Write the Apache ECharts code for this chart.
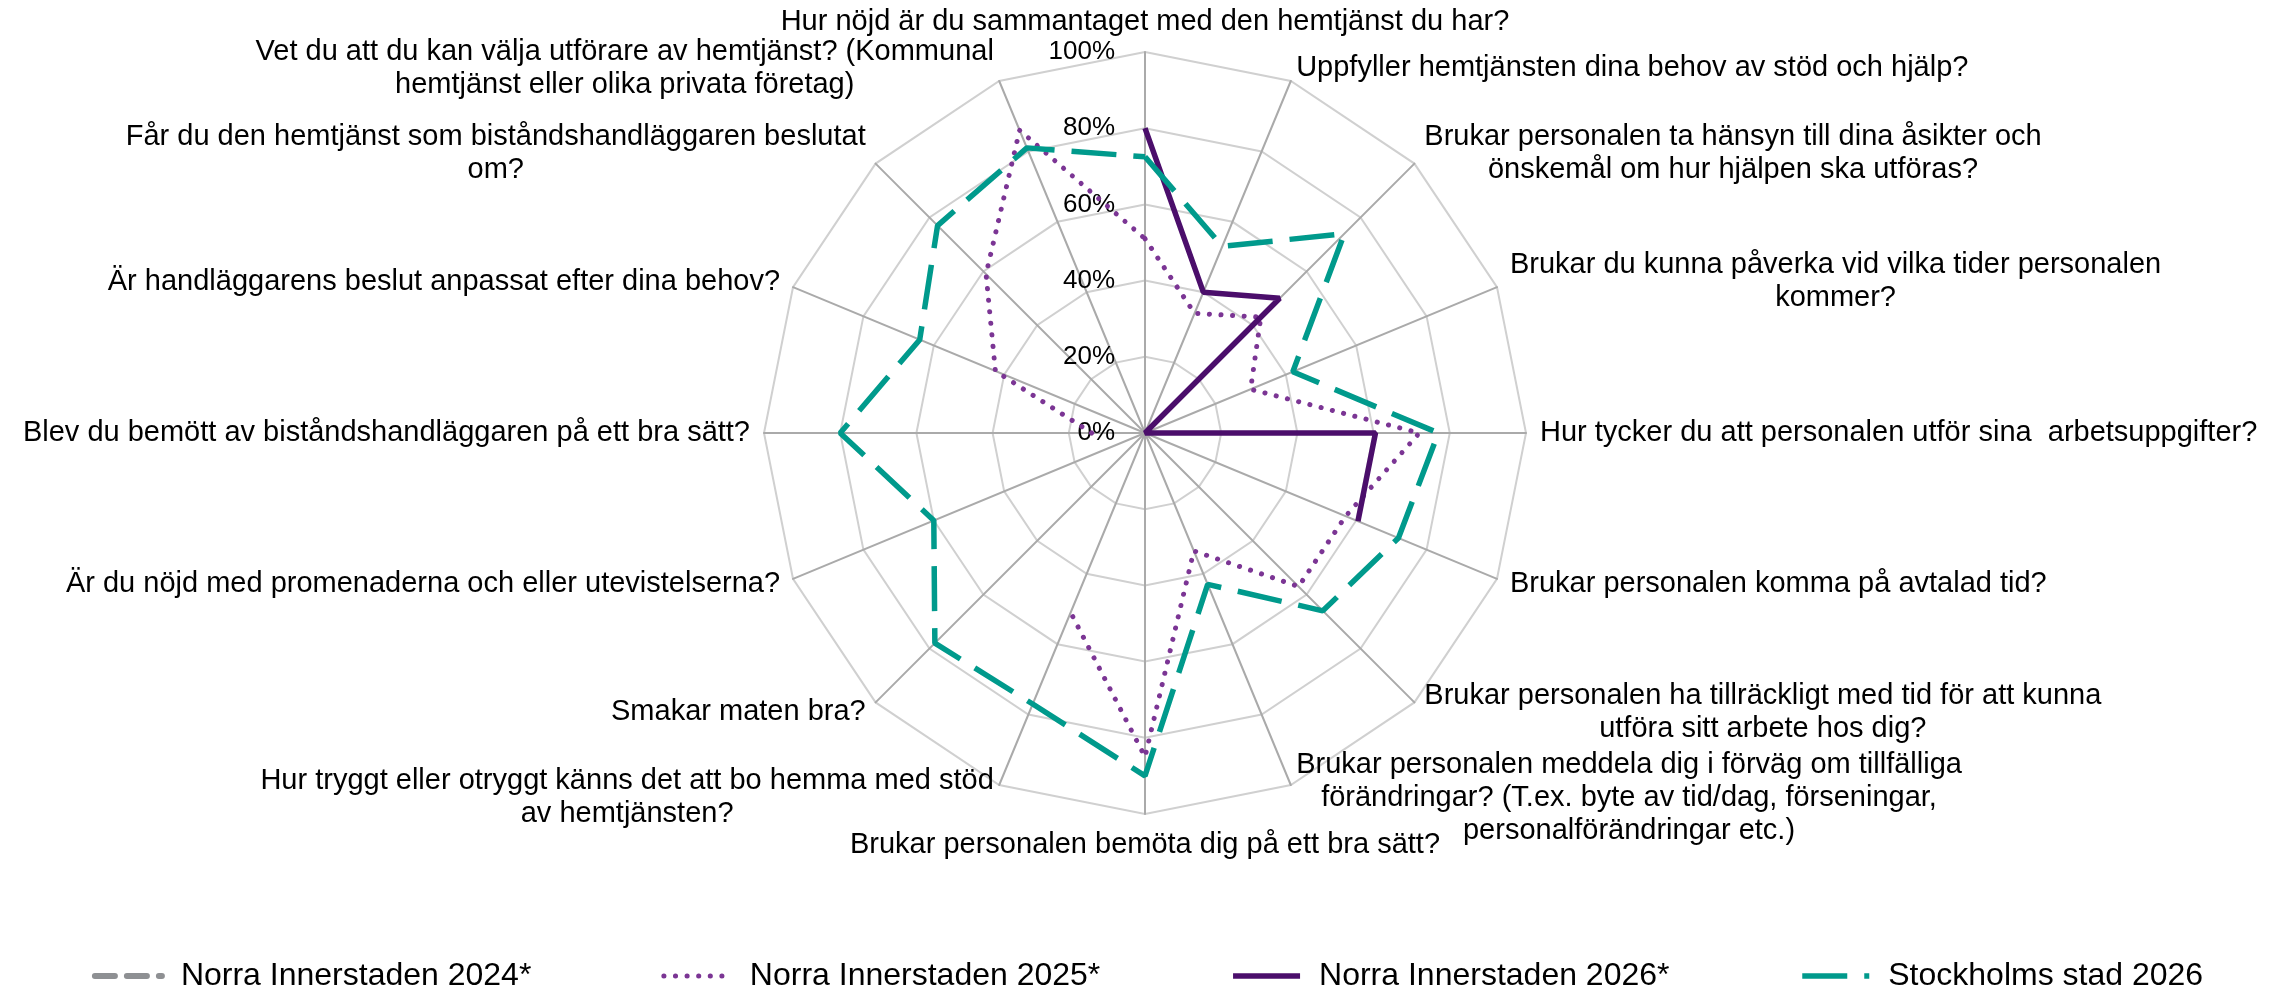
<!DOCTYPE html>
<html>
<head>
<meta charset="utf-8">
<script src="https://cdn.jsdelivr.net/npm/echarts@6/dist/echarts.min.js"></script>
<style>
  html, body { margin: 0; padding: 0; background: #fff; }
  #radar-chart { width: 2295px; height: 994px; }
</style>
</head>
<body>
<div id="radar-chart"></div>
<script>
// frågor, medurs från toppen
const categories = [
  'Hur nöjd är du sammantaget med den hemtjänst du har?',
  'Uppfyller hemtjänsten dina behov av stöd och hjälp?',
  'Brukar personalen ta hänsyn till dina åsikter och\nönskemål om hur hjälpen ska utföras?',
  'Brukar du kunna påverka vid vilka tider personalen\nkommer?',
  'Hur tycker du att personalen utför sina  arbetsuppgifter?',
  'Brukar personalen komma på avtalad tid?',
  'Brukar personalen ha tillräckligt med tid för att kunna\nutföra sitt arbete hos dig?',
  'Brukar personalen meddela dig i förväg om tillfälliga\nförändringar? (T.ex. byte av tid/dag, förseningar,\npersonalförändringar etc.)',
  'Brukar personalen bemöta dig på ett bra sätt?',
  'Hur tryggt eller otryggt känns det att bo hemma med stöd\nav hemtjänsten?',
  'Smakar maten bra?',
  'Är du nöjd med promenaderna och eller utevistelserna?',
  'Blev du bemött av biståndshandläggaren på ett bra sätt?',
  'Är handläggarens beslut anpassat efter dina behov?',
  'Får du den hemtjänst som biståndshandläggaren beslutat\nom?',
  'Vet du att du kan välja utförare av hemtjänst? (Kommunal\nhemtjänst eller olika privata företag)'
]

const seriesNames = ['Norra Innerstaden 2024*', 'Norra Innerstaden 2025*', 'Norra Innerstaden 2026*', 'Stockholms stad 2026']

// procent, null = inget värde
const norra2024 = [null, null, null, null, null, null, null, null, null, null, null, null, null, null, null, null]
const norra2025 = [51, 34, 43, 30, 72, 57, 57, 33.5, 85, 51, null, null, 14, 42.5, 59, 86]
const norra2026 = [80, 40, 50, 0, 60.5, 60.5, null, null, null, null, null, null, null, null, null, null]
const stockholm2026 = [72.5, 53, 74, 42, 77, 72, 66, 43, 90, 77, 78, 60, 80, 64, 77, 81]

const tickMax = 100
const tickSplit = 5

const FONT = '"Liberation Sans", Arial, sans-serif'

// [radie, index] + första punkten igen för att stänga slingan
function toPolar (values) {
  let pts = values.map((v, i) => [v == null ? '-' : v, i])
  pts.push([values[0] == null ? '-' : values[0], values.length])
  return pts
}

// radar ritar moturs, så vänd ordningen (första kvar)
let indicatorOrder = [0].concat(categories.slice(1).map((c, i) => categories.length - 1 - i))
let indicators = indicatorOrder.map((idx, k) => {
  let ind = { name: categories[idx], min: 0, max: tickMax }
  if (k === 0) {
    ind.axisLabel = {
      show: true,
      formatter: '{value}%',
      fontSize: 26,
      fontFamily: FONT,
      color: '#000',
      margin: 30
    }
  }
  return ind
})

let myChart = echarts.init(document.getElementById('radar-chart'))
let option = {
  animation: false,
  backgroundColor: '#fff',
  radar: {
    center: [1145, 433],
    radius: 381,
    startAngle: 90,
    shape: 'polygon',
    splitNumber: tickSplit,
    nameGap: 14,
    indicator: indicators,
    axisName: {
      color: '#000',
      fontSize: 29,
      fontFamily: FONT,
      formatter: function (name) {
        return name.split('\n').map(l => '{c|' + l + '}').join('\n')
      },
      rich: {
        c: { align: 'center', fontSize: 29, fontFamily: FONT, color: '#000', lineHeight: 33 }
      }
    },
    axisLabel: { show: false },
    axisTick: { show: false },
    axisLine: { lineStyle: { color: '#aaaaaa', width: 2 } },
    splitLine: { lineStyle: { color: '#d0d0d0', width: 2 } },
    splitArea: { show: false }
  },
  polar: {
    center: [1145, 433],
    radius: 381
  },
  angleAxis: {
    type: 'value',
    min: 0,
    max: categories.length,
    startAngle: 90,
    clockwise: true,
    show: false
  },
  radiusAxis: {
    type: 'value',
    min: 0,
    max: tickMax,
    show: false
  },
  legend: {
    data: seriesNames,
    left: 'center',
    top: 955,
    itemWidth: 67,
    itemHeight: 20,
    itemGap: 130,
    itemStyle: { opacity: 0, borderWidth: 0 },
    lineStyle: { width: 'inherit' },
    textStyle: { fontSize: 32, color: '#000', fontFamily: FONT, padding: [0, 0, 0, 14] }
  },
  series: [
    {
      name: seriesNames[0],
      type: 'line',
      coordinateSystem: 'polar',
      symbol: 'none',
      color: '#8e9093',
      lineStyle: { color: '#8e9093', width: 6, type: [20, 12], cap: 'round' },
      data: toPolar(norra2024)
    },
    {
      name: seriesNames[1],
      type: 'line',
      coordinateSystem: 'polar',
      symbol: 'none',
      color: '#7b3594',
      lineStyle: { color: '#7b3594', width: 5, type: [0.1, 11.5], cap: 'round' },
      data: toPolar(norra2025)
    },
    {
      name: seriesNames[2],
      type: 'line',
      coordinateSystem: 'polar',
      symbol: 'none',
      color: '#4b0e6b',
      lineStyle: { color: '#4b0e6b', width: 5.5 },
      data: toPolar(norra2026)
    },
    {
      name: seriesNames[3],
      type: 'line',
      coordinateSystem: 'polar',
      symbol: 'none',
      color: '#009a8c',
      lineStyle: { color: '#009a8c', width: 5.5, type: [45, 17] },
      data: toPolar(stockholm2026)
    }
  ]
}
myChart.setOption(option)
</script>
</body>
</html>
